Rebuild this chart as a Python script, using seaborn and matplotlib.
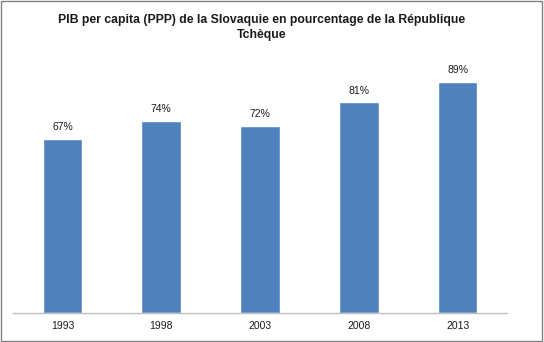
import pandas as pd
import seaborn as sns
import matplotlib.pyplot as plt
from matplotlib.patches import Rectangle

# Data
years = ['1993', '1998', '2003', '2008', '2013']
values = [67, 74, 72, 81, 89]

df = pd.DataFrame({'Year': years, 'Value': values})

sns.set_style('white')
plt.rcParams['font.family'] = ['Liberation Sans', 'DejaVu Sans']

fig = plt.figure(figsize=(5.44, 3.42), dpi=100)
ax = fig.add_axes([0.024, 0.085, 0.908, 0.76])

sns.barplot(x='Year', y='Value', data=df, color='#4F81BD', width=0.4,
            saturation=1, ax=ax)

for i, v in enumerate(values):
    ax.text(i, v + 2.5, f'{v}%', ha='center', va='bottom', fontsize=7.5,
            color='#1a1a1a')

ax.set_ylim(0, 100)
ax.set_xlim(-0.5, 4.5)
ax.set_xlabel('')
ax.set_ylabel('')
ax.set_yticks([])
for s in ['top', 'right', 'left']:
    ax.spines[s].set_visible(False)
ax.spines['bottom'].set_color('#bfbfbf')
ax.spines['bottom'].set_linewidth(1)
ax.tick_params(axis='x', length=0, labelsize=7.5, pad=6, colors='#1a1a1a')

fig.text(0.481, 0.92, 'PIB per capita (PPP) de la Slovaquie en pourcentage de la République\nTchèque',
         ha='center', va='center', fontsize=8.8, fontweight='bold',
         color='#1a1a1a', linespacing=1.3)

fig.patches.append(Rectangle((0.002, 0.003), 0.995, 0.993, transform=fig.transFigure,
                             fill=False, edgecolor='#808080', linewidth=1))

fig.savefig('out.png', dpi=100)
